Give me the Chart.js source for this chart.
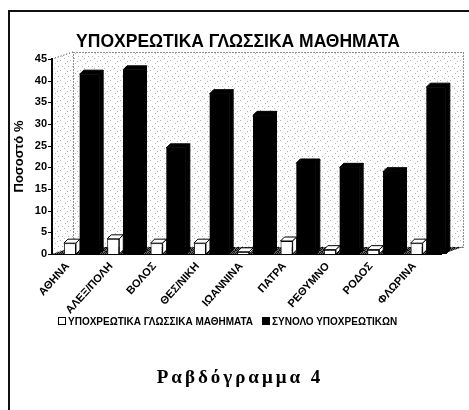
<!DOCTYPE html>
<html>
<head>
<meta charset="utf-8">
<script src="https://cdn.jsdelivr.net/npm/chart.js@4.4.1/dist/chart.umd.min.js"></script>
<style>
html, body { margin: 0; padding: 0; background: #fff; }
#wrap { position: relative; width: 469px; height: 410px; overflow: hidden; }
#frame { position: absolute; left: 8px; top: 10px; width: 520px; height: 460px; border-left: 2px solid #111; border-top: 2px solid #111; }
#grafico { position: absolute; left: 0; top: 0; }
#leyenda { position: absolute; left: 58px; top: 316px; font: bold 10px "Liberation Sans Narrow", Arial, sans-serif; white-space: nowrap; color: #000; }
#leyenda span.caja { display: inline-block; width: 6px; height: 6px; border: 1px solid #000; margin-right: 2px; vertical-align: 0px; }
#leyenda span.item { margin-right: 9px; }
#pie { position: absolute; left: 0; width: 480px; top: 366px; text-align: center; font: bold 19px "Liberation Serif", serif; letter-spacing: 3px; color: #000; }
</style>
</head>
<body>
<div id="wrap">
  <div id="frame"></div>
  <canvas id="grafico" width="469" height="410"></canvas>
  <div id="leyenda"></div>
  <div id="pie">Ραβδόγραμμα 4</div>
</div>
<script>
// datos
const ciudades = ["ΑΘΗΝΑ", "ΑΛΕΞ/ΠΟΛΗ", "ΒΟΛΟΣ", "ΘΕΣ/ΝΙΚΗ", "ΙΩΑΝΝΙΝΑ", "ΠΑΤΡΑ", "ΡΕΘΥΜΝΟ", "ΡΟΔΟΣ", "ΦΛΩΡΙΝΑ"];
const glossika = [2.5, 3.5, 2.5, 2.5, 0.5, 3, 1, 1, 2.5];
const synolo = [41.5, 42.5, 24.5, 37, 32, 21, 20, 19, 38.5];
const nombreSeries = ["ΥΠΟΧΡΕΩΤΙΚΑ ΓΛΩΣΣΙΚΑ ΜΑΘΗΜΑΤΑ", "ΣΥΝΟΛΟ ΥΠΟΧΡΕΩΤΙΚΩΝ"];
const colores = ["#ffffff", "#000000"];
const yMin = 0, yMax = 45, yPaso = 5;

// profundidad del efecto 3D
const DX = 21, DY = 7, DESPL = 6, BX = 4, BY = 4;

function patron(fondo, tinta, puntos, n) {
    const c = document.createElement('canvas');
    c.width = n; c.height = n;
    const g = c.getContext('2d');
    g.fillStyle = fondo; g.fillRect(0, 0, n, n);
    g.fillStyle = tinta;
    puntos.forEach(p => g.fillRect(p[0], p[1], 1, 1));
    return c;
}

const pared = patron('#ffffff', '#b4b4b4', [[0, 0], [5, 3], [2, 6], [7, 1], [4, 8], [8, 6]], 10);
const suelo = patron('#6a6a6a', '#111111', [[0, 0], [2, 0], [1, 1], [3, 1], [0, 2], [3, 2], [1, 3], [2, 3]], 4);

const efecto3d = {
    id: 'efecto3d',
    beforeDatasetsDraw(chart) {
        const { ctx, chartArea: a, scales: { y } } = chart;
        const fl = a.left - DESPL, fr = a.right - DESPL;
        ctx.save();
        // pared del fondo
        ctx.fillStyle = ctx.createPattern(pared, 'repeat');
        ctx.fillRect(fl + DX, a.top - DY, fr - fl, a.bottom - a.top);
        // pared izquierda
        ctx.beginPath();
        ctx.moveTo(fl, a.bottom); ctx.lineTo(fl, a.top);
        ctx.lineTo(fl + DX, a.top - DY); ctx.lineTo(fl + DX, a.bottom - DY);
        ctx.closePath(); ctx.fill();
        // bordes punteados
        ctx.setLineDash([1, 2]);
        ctx.strokeStyle = '#222'; ctx.lineWidth = 1;
        ctx.strokeRect(fl + DX + 0.5, a.top - DY + 0.5, fr - fl, a.bottom - a.top);
        ctx.beginPath();
        ctx.moveTo(fl, a.top); ctx.lineTo(fl + DX, a.top - DY);
        ctx.stroke();
        ctx.setLineDash([]);
        // suelo
        ctx.fillStyle = ctx.createPattern(suelo, 'repeat');
        ctx.beginPath();
        ctx.moveTo(fl, a.bottom); ctx.lineTo(fr, a.bottom);
        ctx.lineTo(fr + DX, a.bottom - DY); ctx.lineTo(fl + DX, a.bottom - DY);
        ctx.closePath(); ctx.fill();
        ctx.strokeStyle = '#000';
        ctx.beginPath();
        ctx.moveTo(fl, a.bottom + 0.5); ctx.lineTo(fr, a.bottom + 0.5);
        ctx.stroke();
        // eje Y con sus marcas
        ctx.lineWidth = 2;
        ctx.beginPath();
        ctx.moveTo(fl, a.top - 1); ctx.lineTo(fl, a.bottom + 1);
        ctx.stroke();
        ctx.lineWidth = 1;
        y.ticks.forEach(t => {
            const py = Math.round(y.getPixelForValue(t.value)) + 0.5;
            ctx.beginPath(); ctx.moveTo(fl - 4, py); ctx.lineTo(fl, py); ctx.stroke();
        });
        ctx.restore();
    },
    afterDatasetsDraw(chart) {
        const { ctx } = chart;
        ctx.save();
        ctx.strokeStyle = '#000'; ctx.lineWidth = 1;
        [1, 0].forEach(i => {
            const meta = chart.getDatasetMeta(i);
            const relleno = chart.data.datasets[i].backgroundColor;
            meta.data.forEach(b => {
                const l = b.x - b.width / 2, r = b.x + b.width / 2;
                ctx.fillStyle = relleno;
                // cara superior
                ctx.beginPath();
                ctx.moveTo(l, b.y); ctx.lineTo(r, b.y);
                ctx.lineTo(r + BX, b.y - BY); ctx.lineTo(l + BX, b.y - BY);
                ctx.closePath(); ctx.fill(); ctx.stroke();
                // cara lateral
                ctx.beginPath();
                ctx.moveTo(r, b.y); ctx.lineTo(r + BX, b.y - BY);
                ctx.lineTo(r + BX, b.base - BY); ctx.lineTo(r, b.base);
                ctx.closePath(); ctx.fill(); ctx.stroke();
            });
        });
        ctx.restore();
    }
};

new Chart(document.getElementById('grafico'), {
    type: 'bar',
    data: {
        labels: ciudades,
        datasets: [
            { label: nombreSeries[0], data: glossika, backgroundColor: colores[0], borderColor: '#000', borderWidth: 1, barPercentage: 0.62, categoryPercentage: 0.9 },
            { label: nombreSeries[1], data: synolo, backgroundColor: colores[1], borderColor: '#000', borderWidth: 0, barPercentage: 1, categoryPercentage: 0.9 }
        ]
    },
    options: {
        responsive: false,
        animation: false,
        layout: { padding: { left: 28, right: 21, top: 0, bottom: 96 } },
        plugins: {
            legend: { display: false }, // leyenda en HTML
            tooltip: { enabled: false },
            title: {
                display: true,
                text: 'ΥΠΟΧΡΕΩΤΙΚΑ ΓΛΩΣΣΙΚΑ ΜΑΘΗΜΑΤΑ',
                color: '#000',
                font: { family: 'Arial, "Liberation Sans", sans-serif', size: 17.5, weight: 'bold' },
                padding: { top: 32, bottom: 6 }
            }
        },
        scales: {
            x: {
                grid: { display: false, drawTicks: false },
                border: { display: false },
                ticks: {
                    color: '#000', minRotation: 48, maxRotation: 48, autoSkip: false,
                    labelOffset: -12, padding: 6,
                    font: { family: 'Arial, "Liberation Sans", sans-serif', size: 11, weight: 'bold' }
                },
                afterFit(s) { s.height = 60; }
            },
            y: {
                min: yMin, max: yMax,
                grid: { display: false, drawTicks: false },
                border: { display: false },
                ticks: {
                    stepSize: yPaso, color: '#000', padding: 11,
                    font: { family: '"Liberation Sans Narrow", Arial, sans-serif', size: 11, weight: 'bold' }
                },
                title: {
                    display: true, text: 'Ποσοστό %', color: '#000',
                    font: { family: 'Arial, sans-serif', size: 13, weight: 'bold' },
                    padding: { top: -16, bottom: 0 }
                },
                afterFit(s) { s.width = 30; }
            }
        }
    },
    plugins: [efecto3d]
});

// leyenda
let htmlLeyenda = '';
nombreSeries.forEach((n, i) => {
    htmlLeyenda += `<span class="item"><span class="caja" style="background:${colores[i]}"></span>${n}</span>`;
});
document.getElementById('leyenda').innerHTML = htmlLeyenda;
</script>
</body>
</html>
